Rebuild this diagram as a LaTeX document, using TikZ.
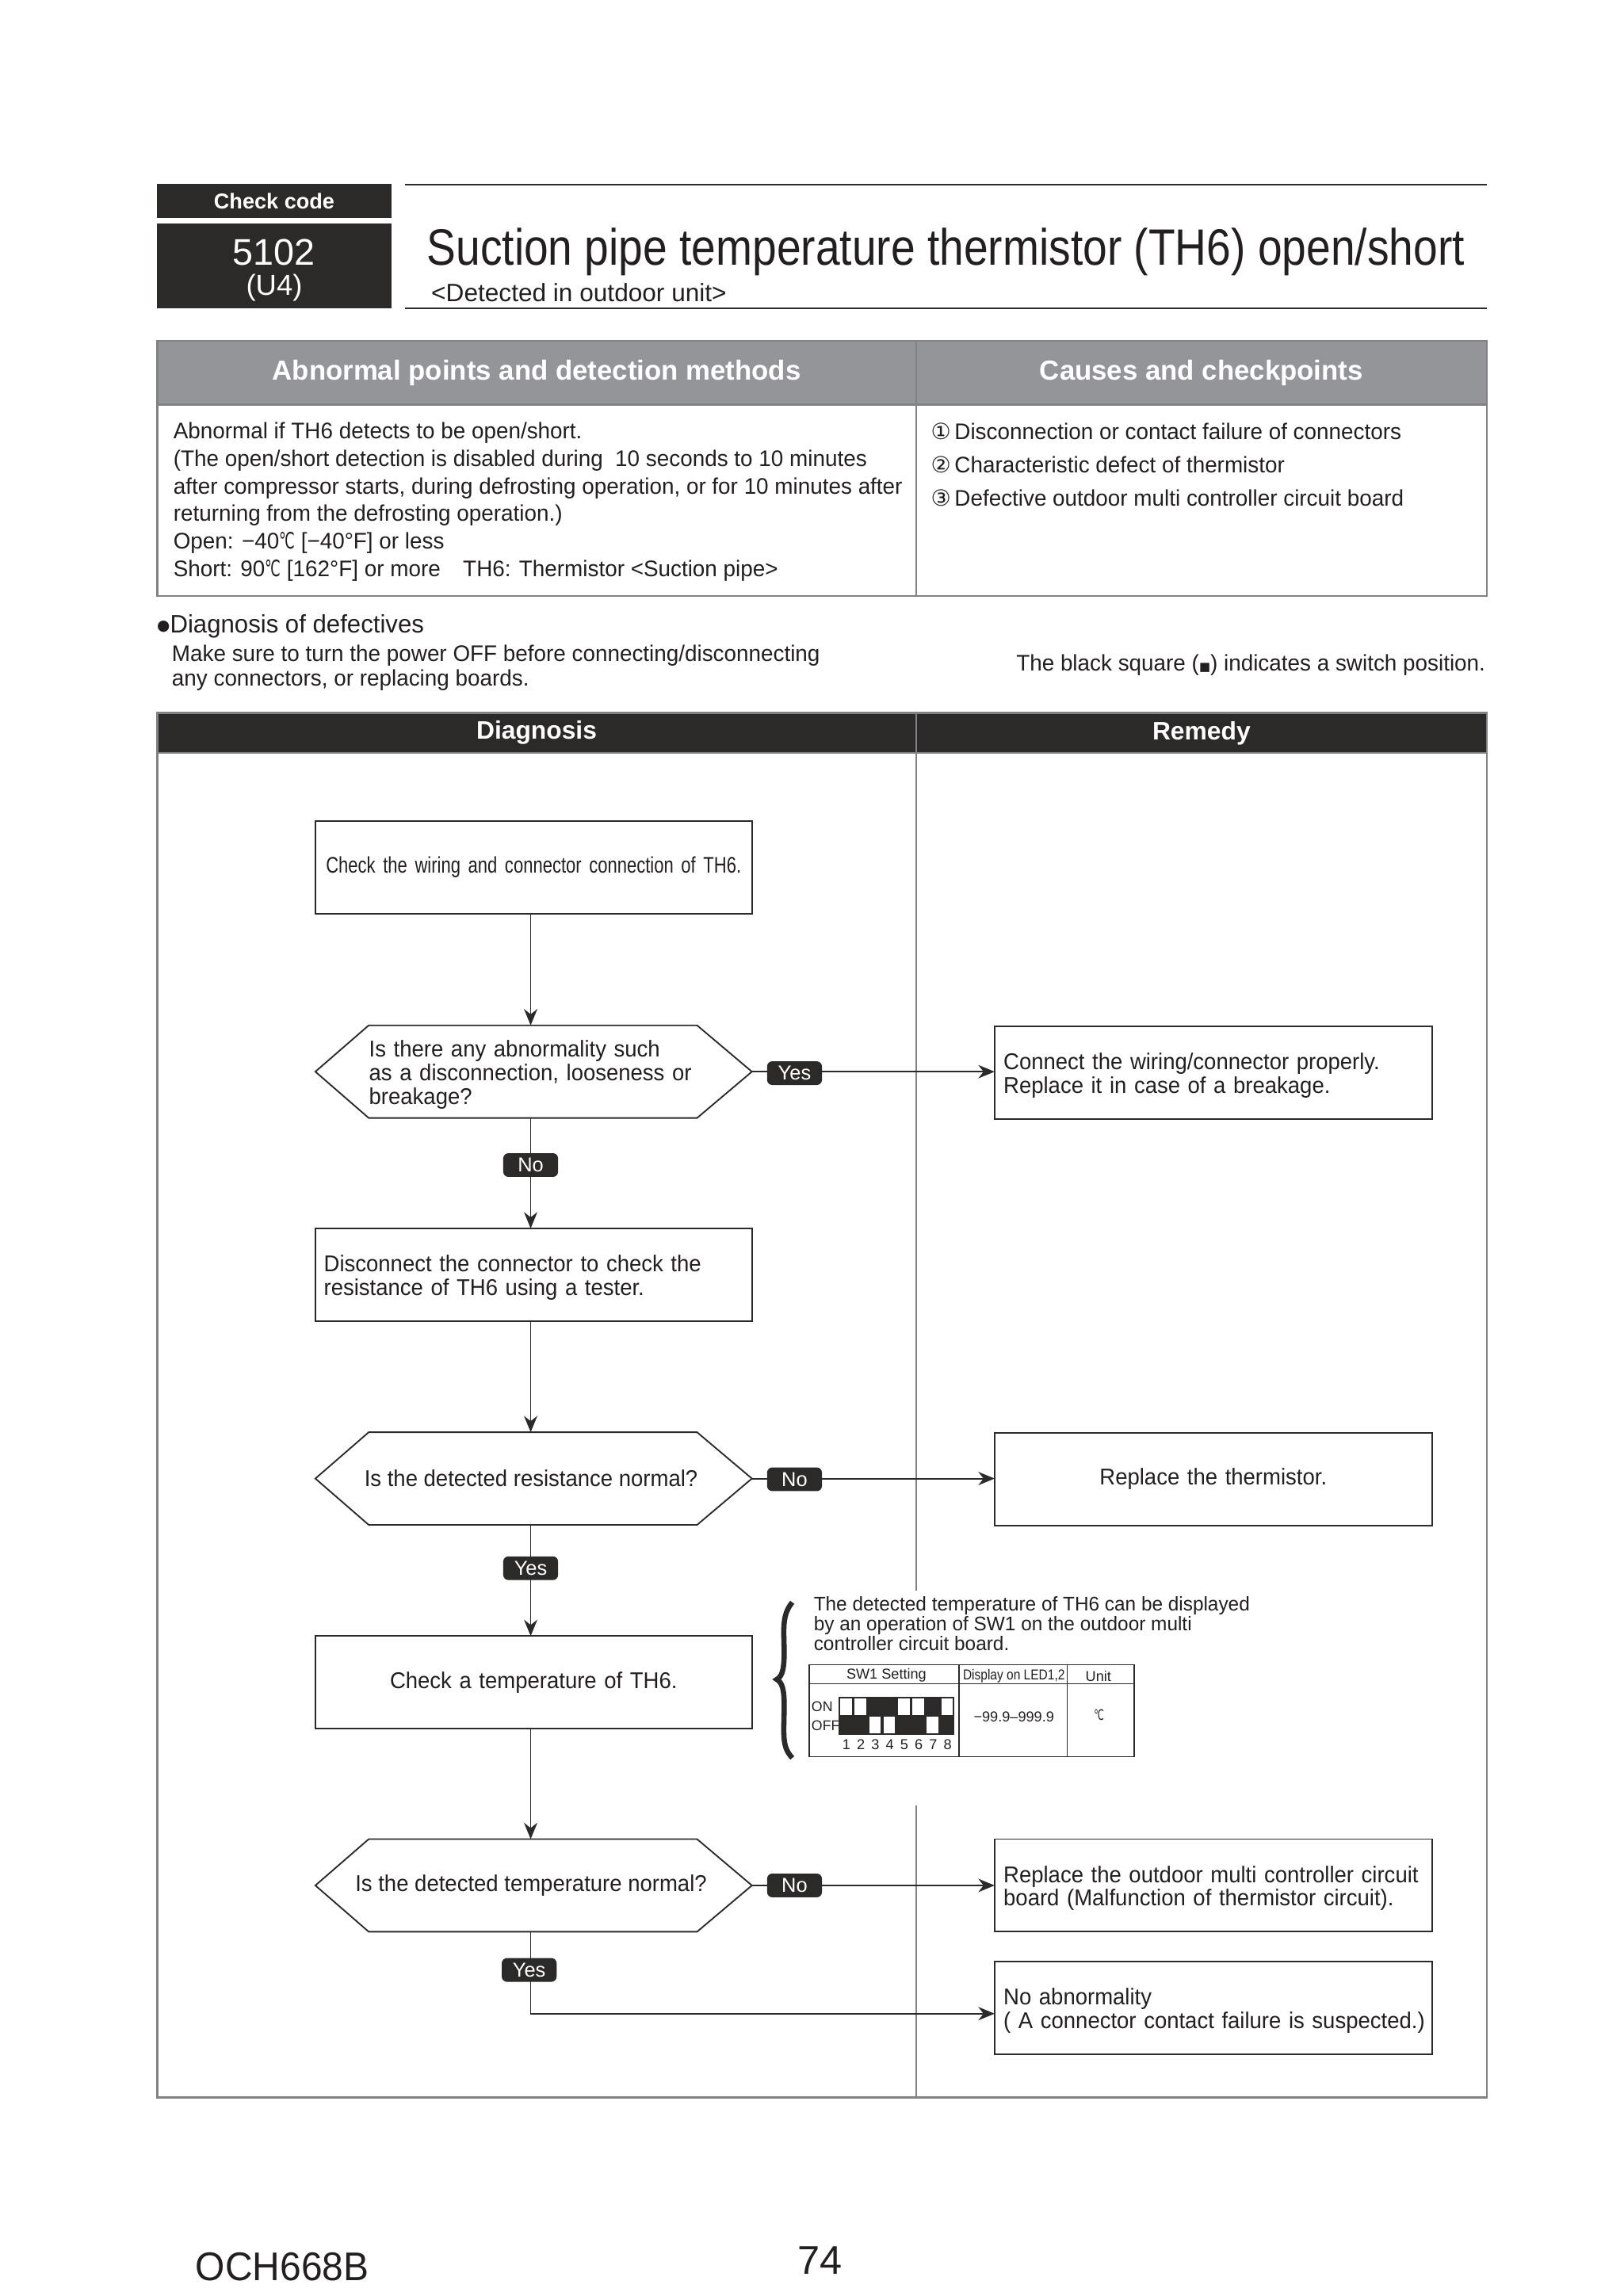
\documentclass[tikz,border=0pt]{standalone}
\usepackage{fontspec}
\usetikzlibrary{arrows.meta,calc}
\setmainfont{Liberation Sans}
\newfontfamily\djfont{DejaVu Sans}
\newfontfamily\condfont[FakeStretch=0.855]{Liberation Sans}
\newfontfamily\wirefont[FakeStretch=0.775]{Liberation Sans}
\newfontfamily\bodyfont[FakeStretch=0.98]{Liberation Sans}
\newfontfamily\flowfont[FakeStretch=0.955]{Liberation Sans}
\newfontfamily\footfont[FakeStretch=0.95]{Liberation Sans}
\newfontfamily\celfont[FakeStretch=0.62]{DejaVu Sans}
\newcommand{\fsz}[2]{\fontsize{#1pt}{#2pt}\selectfont}
\newcommand{\circn}[1]{{\djfont\fontsize{15pt}{15pt}\selectfont #1}}
\newcommand{\cel}{{\celfont ℃}}
\definecolor{ink}{HTML}{2B2A29}
\definecolor{hgray}{HTML}{939598}
\definecolor{bgray}{HTML}{808285}
\definecolor{txt}{HTML}{231F20}
\tikzset{
  x=1pt,y=-1pt,
  every node/.style={inner sep=0pt,outer sep=0pt,text=txt},
  txtline/.style={anchor=west,align=left},
  fbox/.style={draw=ink,line width=1pt,minimum width=294.5pt,minimum height=62.5pt,align=left,text width=283pt,font=\flowfont\fsz{15.4}{16}},
  rbox/.style={draw=ink,line width=1pt,minimum width=295pt,minimum height=62.5pt,align=left,text width=283pt,font=\flowfont\fsz{15.4}{16}},
  hexspace/.style={minimum width=294.5pt,minimum height=62.5pt,align=left,font=\flowfont\fsz{15.4}{16}},
  mline/.style={execute at begin node={\rule{0pt}{15pt}}},
  pill/.style={fill=ink,rounded corners=3.5pt,minimum width=37pt,minimum height=16pt,text=white,font=\fsz{13.6}{13.6}},
  conn/.style={draw=ink,line width=1pt},
  arr/.style={conn,-{Stealth[length=11pt,width=9pt,inset=3.5pt]}},
  hdrA/.style={fill=hgray,text=white,font=\bfseries\fsz{18.6}{18.6}},
  hdrB/.style={fill=ink,text=white,font=\bfseries\fsz{17}{17}},
  frame/.style={draw=bgray,line width=1.4pt},
}
\newcommand{\hexpath}[1]{\draw[conn,line join=miter] (#1.west) -- ($(#1.north west)+(36,0)$) -- ($(#1.north east)+(-37,0)$) -- (#1.east) -- ($(#1.south east)+(-37,0)$) -- ($(#1.south west)+(36,0)$) -- cycle;}
\begin{document}
\begin{tikzpicture}
\useasboundingbox (0,0) rectangle (1095.2,1549);
\fill[white] (0,0) rectangle (1095.2,1549);
% ---------- title block
\node[fill=ink,minimum width=158pt,minimum height=23pt,text=white,font=\bfseries\fsz{14.5}{14.5}] (cc) at (185,135.5) {Check code};
\node[fill=ink,minimum width=158pt,minimum height=57pt] (code) at (185,179.5) {};
\node[text=white,font=\fsz{25}{25}] (num) at (185,170) {5102};
\node[text=white,font=\fsz{19.5}{19.5}] (u4) at (185,194) {(U4)};
\draw[ink,line width=1.1pt] (273,124.6) -- (1003,124.6);
\draw[ink,line width=1.1pt] (273,208) -- (1003,208);
\node[txtline,font=\condfont\fsz{34.5}{34.5}] (title) at (288,170) {Suction pipe temperature thermistor (TH6) open/short};
\node[txtline,font=\fsz{16.9}{16.9}] (sub) at (291,197.5) {<Detected in outdoor unit>};
% ---------- upper table
\node[hdrA,minimum width=512pt,minimum height=43pt] (ha) at (362,251.5) {\raisebox{-1pt}{Abnormal points and detection methods}};
\node[hdrA,minimum width=385pt,minimum height=43pt] (hb) at (810.5,251.5) {\raisebox{-1pt}{Causes and checkpoints}};
\draw[frame] (106,230) rectangle (1003,402);
\draw[frame] (618,230) -- (618,402);
\draw[frame] (106,273) -- (1003,273);
\node[anchor=north west,align=left,font=\bodyfont\fsz{15.2}{18.6}] (abn) at (117,285) {Abnormal if TH6 detects to be open/short.\\
(The open/short detection is disabled during\ \ 10 seconds to 10 minutes\\
after compressor starts, during defrosting operation, or for 10 minutes after\\
returning from the defrosting operation.)\\
Open: −40\cel{} [−40°F] or less\\
Short: 90\cel{} [162°F] or more\quad TH6: Thermistor <Suction pipe>};
\node[txtline,font=\bodyfont\fsz{15.2}{15.2}] (c1) at (628,291) {\circn{①}\,Disconnection or contact failure of connectors};
\node[txtline,font=\bodyfont\fsz{15.2}{15.2}] (c2) at (628,313.5) {\circn{②}\,Characteristic defect of thermistor};
\node[txtline,font=\bodyfont\fsz{15.2}{15.2}] (c3) at (628,336) {\circn{③}\,Defective outdoor multi controller circuit board};
% ---------- notes
\node[txtline,font=\bodyfont\fsz{17}{17}] (diag) at (106,422.5) {\raisebox{1.5pt}{\djfont\fontsize{10pt}{10pt}\selectfont ●}Diagnosis of defectives};
\node[anchor=north west,align=left,font=\bodyfont\fsz{15.2}{17}] (mk) at (116,435) {Make sure to turn the power OFF before connecting/disconnecting\\any connectors, or replacing boards.};
\node[anchor=east,font=\bodyfont\fsz{15.2}{15.2}] (blk) at (1002,448.5) {The black square ({\djfont\fontsize{8pt}{8pt}\selectfont ■}) indicates a switch position.};
% ---------- lower table
\node[hdrB,minimum width=512pt,minimum height=27pt] (hd) at (362,494.5) {\raisebox{-1.5pt}{Diagnosis}};
\node[hdrB,minimum width=385pt,minimum height=27pt] (hr) at (810.5,494.5) {\raisebox{-1pt}{Remedy}};
\draw[frame] (106,481) rectangle (1003,1415);
\draw[frame] (106,508) -- (1003,508);
\draw[frame] (618,481) -- (618,1073);
\draw[frame] (618,1218) -- (618,1415);
% ---------- flow nodes
\coordinate (spine) at (358,0);
\node[fbox,align=center] (b1) at (360,585.2) {\makebox[283pt][c]{\wirefont\fsz{15.2}{15.2}Check the wiring and connector connection of TH6.}};
\node[hexspace,mline,text width=222pt] (h1) at (360,723) {Is there any abnormality such\\as a disconnection, looseness or\\breakage?};
\hexpath{h1}
\node[rbox,mline] (r1) at (818.5,723.7) {Connect the wiring/connector properly.\\Replace it in case of a breakage.};
\node[fbox,mline] (b2) at (360,860) {Disconnect the connector to check the\\resistance of TH6 using a tester.};
\node[hexspace] (h2) at (360,997.5) {\makebox[0pt][c]{\hspace*{-3.5pt}Is the detected resistance normal?}};
\hexpath{h2}
\node[rbox,align=center] (r2) at (818.5,998) {Replace the thermistor.};
\node[fbox,align=center] (b3) at (360,1135) {Check a temperature of TH6.};
\node[hexspace] (h3) at (360,1272) {\makebox[0pt][c]{\hspace*{-3.5pt}Is the detected temperature normal?}};
\hexpath{h3}
\node[rbox,mline] (r3) at (818.5,1272) {\mbox{Replace the outdoor multi controller circuit}\\board (Malfunction of thermistor circuit).};
\node[rbox,mline] (r4) at (818.5,1354.5) {No abnormality\\\mbox{( A connector contact failure is suspected.)}};
% ---------- connectors
\draw[arr] (spine |- b1.south) -- (spine |- h1.north);
\draw[arr] (spine |- h1.south) -- (spine |- b2.north);
\draw[arr] (spine |- b2.south) -- (spine |- h2.north);
\draw[arr] (spine |- h2.south) -- (spine |- b3.north);
\draw[arr] (spine |- b3.south) -- (spine |- h3.north);
\draw[arr] (h1.east) -- (h1.east -| r1.west);
\draw[arr] (h2.east) -- (h2.east -| r2.west);
\draw[arr] (h3.east) -- (h3.east -| r3.west);
\draw[arr] (spine |- h3.south) -- (358,1358.5) -- (358,1358.5 -| r4.west);
% ---------- pills
\node[pill] (p1) at (536,724) {Yes};
\node[pill] (p2) at (358,786) {No};
\node[pill] (p3) at (536,998) {No};
\node[pill] (p4) at (358,1058) {Yes};
\node[pill] (p5) at (536,1272) {No};
\node[pill] (p6) at (357,1329) {Yes};
% ---------- SW1 callout
\draw[ink,line width=3.5pt] (534.5,1081) .. controls (527,1090) and (529,1100) .. (529,1115) .. controls (529,1125) and (528,1131) .. (524,1133) .. controls (528,1135) and (529,1141) .. (529,1150) .. controls (529,1170) and (527,1178) .. (534.5,1186);
\node[anchor=north west,align=left,font=\bodyfont\fsz{13.3}{13.5}] (det) at (549,1077) {The detected temperature of TH6 can be displayed\\by an operation of SW1 on the outdoor multi\\controller circuit board.};
\draw[ink,line width=0.8pt] (546,1123) rectangle (765,1185);
\draw[ink,line width=0.8pt] (546,1136) -- (765,1136);
\draw[ink,line width=0.8pt] (647,1123) -- (647,1185);
\draw[ink,line width=0.8pt] (720,1123) -- (720,1185);
\node[font=\fsz{9.7}{9.7}] (t1) at (598,1130) {SW1 Setting};
\node[font=\condfont\fsz{9.7}{9.7}] (t2) at (684,1131) {Display on LED1,2};
\node[font=\fsz{9.7}{9.7}] (t3) at (741,1131) {Unit};
\node[font=\fsz{9.7}{9.7}] (t4) at (684,1158.5) {−99.9–999.9};
\node[font=\fsz{9.7}{9.7}] (t5) at (741.5,1157) {\cel};
\node[txtline,font=\fsz{9.5}{9.5}] (on) at (547.5,1151.5) {ON};
\node[txtline,font=\fsz{9.5}{9.5}] (off) at (547.5,1164) {OFF};
\fill[ink] (565.5,1144.7) rectangle (643.5,1170.5);
\foreach \i in {0,1,4,5,7} {\fill[white] ({566.8+9.75*\i},1146) rectangle ({574.6+9.75*\i},1157);}
\foreach \i in {2,3,6} {\fill[white] ({566.8+9.75*\i},1158) rectangle ({574.6+9.75*\i},1169.5);}
\foreach \n [count=\i from 0] in {1,...,8} {\node[font=\fsz{9.7}{9.7}] at ({571+9.75*\i},1177) {\n};}
% ---------- footer
\node[txtline,font=\footfont\fsz{27}{27}] (och) at (132,1529) {OCH668B};
\node[font=\fsz{27}{27}] (pg) at (553,1525) {74};
\end{tikzpicture}
\end{document}
